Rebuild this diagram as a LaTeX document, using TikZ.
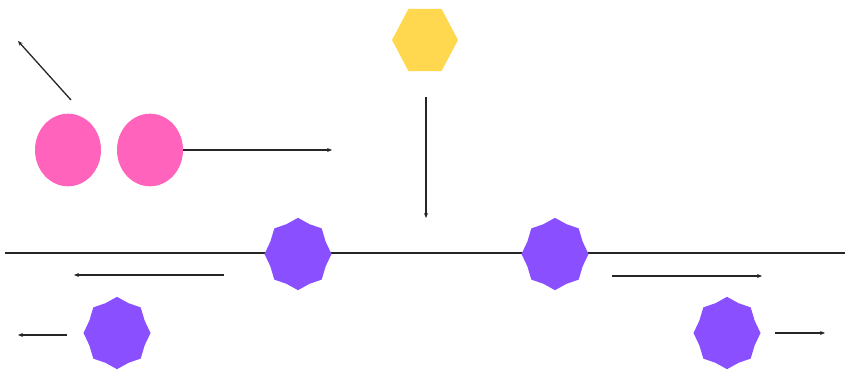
\documentclass[tikz,border=0pt]{standalone}
\usetikzlibrary{shapes.geometric,arrows.meta}
\definecolor{pinkc}{HTML}{FF63BC}
\definecolor{yellowc}{HTML}{FFD84F}
\definecolor{purplec}{HTML}{8A4FFF}
\begin{document}
\begin{tikzpicture}[x=1pt,y=-1pt,
  ball/.style={circle,fill=pinkc,minimum size=66pt,inner sep=0pt,yscale=1.1},
  hexa/.style={regular polygon,regular polygon sides=6,fill=yellowc,minimum size=66pt,inner sep=0pt,yscale=1.09},
  octa/.style={star,star points=8,star point ratio=1.12,fill=purplec,minimum size=67pt,inner sep=0pt,yscale=1.08},
  arr/.style={-{Stealth[length=5pt,width=4pt]},line width=1.3pt,draw=black!85}]
\useasboundingbox (0,0) rectangle (851,374);
\coordinate (lL) at (5,253);
\coordinate (lR) at (845,253);
\draw[line width=1.6pt,black!85] (lL) -- (lR);
\node[ball] (b1) at (68,150) {};
\node[ball] (b2) at (150,150) {};
\node[hexa] (hx) at (425,40) {};
\node[octa] (s1) at (298,254) {};
\node[octa] (s2) at (555,254) {};
\node[octa] (s3) at (117,333) {};
\node[octa] (s4) at (727,333) {};
\coordinate (a1s) at (71,100); \coordinate (a1e) at (18,41);
\draw[arr] (a1s) -- (a1e);
\coordinate (a2e) at (332,150);
\draw[arr] (b2.east) -- (a2e);
\coordinate (a3s) at (426,97); \coordinate (a3e) at (426,218);
\draw[arr] (a3s) -- (a3e);
\coordinate (a4s) at (224,275); \coordinate (a4e) at (74,275);
\draw[arr] (a4s) -- (a4e);
\coordinate (a5s) at (67,335); \coordinate (a5e) at (18,335);
\draw[arr] (a5s) -- (a5e);
\coordinate (a6s) at (612,276); \coordinate (a6e) at (762,276);
\draw[arr] (a6s) -- (a6e);
\coordinate (a7s) at (775,333); \coordinate (a7e) at (825,333);
\draw[arr] (a7s) -- (a7e);
\end{tikzpicture}
\end{document}
